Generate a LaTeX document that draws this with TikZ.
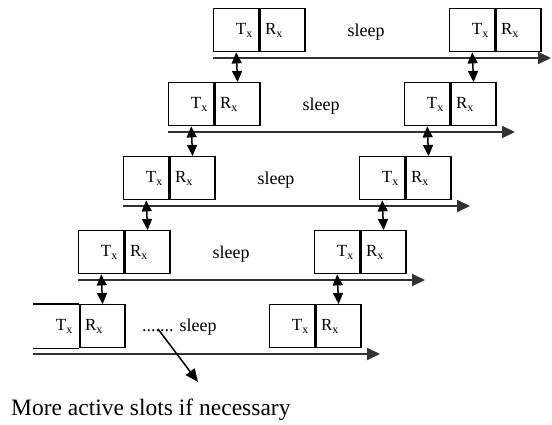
\documentclass[tikz,border=0pt]{standalone}
\usepackage{fontspec}
\setmainfont{Liberation Serif}
\usetikzlibrary{arrows.meta}
\tikzstyle{timeline} = [x = 1pt, y = -1pt]
\definecolor{axisColor}{RGB}{50,50,50}
\tikzstyle{cellStyle} = [draw, line width=1.4pt, minimum height=43pt, anchor=north west, inner ysep=0pt, font=\fontsize{17}{17}\selectfont]
\tikzstyle{txCell} = [cellStyle, text width=33pt, inner xsep=6pt, align=right]
\tikzstyle{txOpen} = [txCell, draw=none]
\tikzstyle{rxCell} = [cellStyle, text width=35pt, inner xsep=5pt, align=left]
\tikzstyle{sleepText} = [font=\fontsize{18}{18}\selectfont, inner sep=0pt]
\tikzstyle{axisLine} = [draw=axisColor, line width=2pt, -{Triangle[length=13pt, width=12pt]}]
\tikzstyle{linkArrow} = [line width=1.5pt, {Triangle[length=11pt, width=10pt]}-{Triangle[length=11pt, width=10pt]}]
\tikzstyle{moreArrow} = [line width=1.5pt, -{Triangle[length=13pt, width=11pt]}]
\tikzstyle{captionText} = [font=\fontsize{23.5}{23.5}\selectfont, inner sep=0pt]
\newcommand{\slotPair}[4]{
  \node [#4] (tx#1) at (#2,#3) {T\textsubscript{x}};
  \node [rxCell] (rx#1) at (tx#1.north east) {R\textsubscript{x}};
}

\begin{document}
\begin{tikzpicture}[timeline]
  \useasboundingbox (0,0) rectangle (552,424);
  % slots and time axes, one row per node
  \foreach \row in {0,...,4} {
    \pgfmathsetmacro{\slotX}{213 - 45 * \row}
    \pgfmathsetmacro{\slotY}{8 + 74 * \row}
    \ifnum\row<4 \def\txKind{txCell}\else\def\txKind{txOpen}\fi
    \slotPair{A\row}{\slotX}{\slotY}{\txKind}
    \slotPair{B\row}{\slotX + 236}{\slotY}{txCell}
    \coordinate (axisStart\row) at (\slotX, \slotY + 50);
    \coordinate (axisEnd\row) at ({min(\slotX + 347, 551)}, \slotY + 50);
    \draw [axisLine] (axisStart\row) -- (axisEnd\row);
  }
  \draw [line width=1.4pt] (txA4.north west) -- (txA4.north east) (txA4.south west) -- (txA4.south east);
  % sleep periods
  \foreach \row in {0,...,3} {
    \pgfmathsetmacro{\slotX}{213 - 45 * \row}
    \pgfmathsetmacro{\slotY}{8 + 74 * \row}
    \node [sleepText, anchor=base] (sleep\row) at (\slotX + 153, \slotY + 28) {sleep};
  }
  \node [sleepText, anchor=base west] (sleep4) at (142, 331) {....... sleep};
  % links between neighbours
  \foreach \row [evaluate=\row as \next using int(\row + 1)] in {0,...,3} {
    \draw [linkArrow] (txA\row.south) -- (rxA\next.north);
    \draw [linkArrow] (txB\row.south) -- (rxB\next.north);
  }
  \coordinate (moreSlots) at (198, 382);
  \draw [moreArrow] ([shift={(16,-2)}]sleep4.base west) -- (moreSlots);
  \node [captionText, anchor=base west] (caption) at (11, 415) {More active slots if necessary};
\end{tikzpicture}
\end{document}
